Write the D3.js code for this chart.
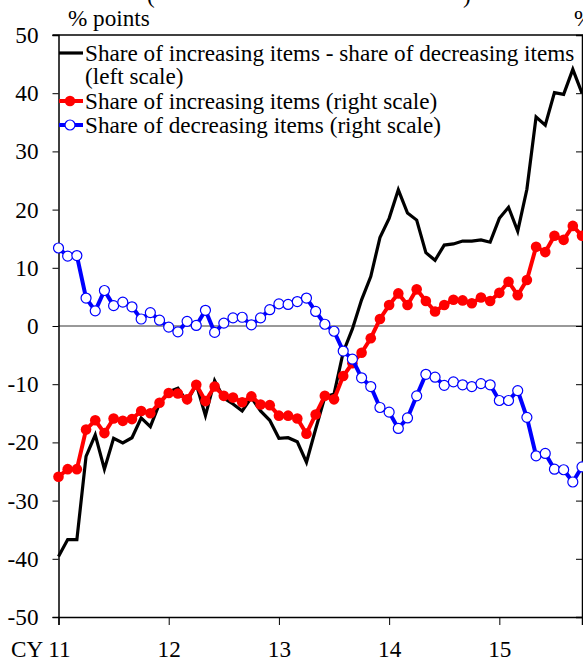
<!DOCTYPE html>
<html>
<head>
<meta charset="utf-8">
<script src="https://cdn.jsdelivr.net/npm/d3@7"></script>
<style>
  html, body { margin: 0; padding: 0; background: #fff; }
  svg { display: block; font-family: "Liberation Serif", "Times New Roman", serif; }
</style>
</head>
<body>
<svg id="chart" width="583" height="661"></svg>
<script>
// ---- Data (monthly, Jan 2011 - Oct 2015) ----
const months = [
  "2011-01","2011-02","2011-03","2011-04","2011-05","2011-06","2011-07","2011-08","2011-09","2011-10","2011-11","2011-12",
  "2012-01","2012-02","2012-03","2012-04","2012-05","2012-06","2012-07","2012-08","2012-09","2012-10","2012-11","2012-12",
  "2013-01","2013-02","2013-03","2013-04","2013-05","2013-06","2013-07","2013-08","2013-09","2013-10","2013-11","2013-12",
  "2014-01","2014-02","2014-03","2014-04","2014-05","2014-06","2014-07","2014-08","2014-09","2014-10","2014-11","2014-12",
  "2015-01","2015-02","2015-03","2015-04","2015-05","2015-06","2015-07","2015-08","2015-09","2015-10"
];
// Share of increasing items - share of decreasing items (left scale, % points)
const diffSeries = [
  -39.6,-36.7,-36.7,-22.4,-18.7,-24.6,-19.3,-20.1,-19.2,-15.8,-17.3,-13.3,
  -11.3,-10.7,-13.0,-10.0,-15.4,-9.4,-12.4,-13.4,-14.6,-12.3,-14.6,-16.2,
  -19.3,-19.2,-19.9,-23.4,-17.7,-12.2,-11.7,-4.5,-0.5,4.5,8.5,15.2,
  18.5,23.4,19.4,18.2,12.6,11.3,13.9,14.1,14.6,14.6,14.8,14.4,
  18.5,20.4,16.3,23.5,35.9,34.5,40.1,39.8,44.1,40.0
];
// Share of increasing items (right scale, plotted position)
const incSeries = [
  -25.9,-24.6,-24.6,-17.8,-16.2,-18.4,-15.9,-16.3,-16.0,-14.6,-15.0,-13.2,
  -11.5,-11.6,-12.6,-10.1,-12.9,-10.4,-12.0,-12.3,-13.1,-12.1,-13.5,-13.6,
  -15.4,-15.4,-15.9,-18.5,-15.2,-12.0,-12.6,-8.6,-6.4,-4.6,-2.1,1.2,
  3.6,5.6,3.6,6.3,4.3,2.5,3.6,4.5,4.4,3.9,4.9,4.3,
  5.7,7.6,5.3,7.9,13.6,12.7,15.5,14.8,17.2,15.5
];
// Share of decreasing items (right scale, plotted position)
const decSeries = [
  13.4,12.0,12.1,4.8,2.6,6.1,3.5,4.1,3.3,1.2,2.3,1.0,
  -0.2,-1.0,0.8,0.1,2.7,-1.1,0.5,1.4,1.5,0.2,1.4,2.8,
  3.8,3.7,4.2,4.8,2.5,0.3,-0.9,-4.3,-5.7,-8.9,-10.4,-14.0,
  -14.8,-17.6,-15.8,-12.0,-8.3,-8.8,-10.2,-9.6,-10.1,-10.4,-9.9,-10.1,
  -12.8,-12.8,-11.1,-15.7,-22.3,-21.9,-24.6,-24.7,-26.8,-24.2
];
const leftTicks = [-50,-40,-30,-20,-10,0,10,20,30,40,50];
const yearTickIndex = [0,12,24,36,48];
const yearLabels = ["CY 11","12","13","14","15"];
const legendLabels = [
  ["Share of increasing items - share of decreasing items", "(left scale)"],
  ["Share of increasing items (right scale)"],
  ["Share of decreasing items (right scale)"]
];

// ---- Layout ----
const svg = d3.select("#chart");
const X0 = 58.5, X1 = 582, Y0 = 35, Y1 = 617;
const FS = 23.2;
const x = d3.scaleLinear().domain([0, months.length - 1]).range([X0, X1]);
const y = d3.scaleLinear().domain([-50, 50]).range([Y1, Y0]);

// partial title (cut off at top, as in the reference)
svg.append("text").attr("x", 147).attr("y", 3).attr("font-size", FS).text("(");
svg.append("text").attr("x", 463).attr("y", 3).attr("font-size", FS).text(")");

// unit labels
svg.append("text").attr("x", 68).attr("y", 26).attr("font-size", FS).text("% points");
svg.append("text").attr("x", 574).attr("y", 26).attr("font-size", FS).text("%");

// zero line
svg.append("line")
  .attr("x1", X0).attr("x2", X1).attr("y1", y(0)).attr("y2", y(0))
  .attr("stroke", "#333").attr("stroke-width", 1);

// frame top line
svg.append("line").attr("x1", X0 - 6).attr("x2", X1 + 1).attr("y1", Y0).attr("y2", Y0)
  .attr("stroke", "#000").attr("stroke-width", 1.3);

// left axis
const gl = svg.append("g").attr("transform", `translate(${X0},0)`)
  .call(d3.axisLeft(y).tickValues(leftTicks).tickSize(6).tickPadding(14).tickFormat(d => String(d)));
gl.select(".domain").attr("stroke", "#000").attr("stroke-width", 1.5);
gl.selectAll(".tick line").attr("stroke", "#000").attr("stroke-width", 1);
gl.selectAll(".tick text").attr("font-size", FS).attr("font-family", "Liberation Serif").attr("fill", "#000");

// right axis (ticks inward, labels outside the picture)
const gr = svg.append("g").attr("transform", `translate(${X1},0)`)
  .call(d3.axisLeft(y).tickValues(leftTicks).tickSize(6).tickFormat(""));
gr.select(".domain").attr("stroke", "#000").attr("stroke-width", 1.5);
gr.selectAll(".tick line").attr("stroke", "#000").attr("stroke-width", 1);

// bottom axis
const gb = svg.append("g").attr("transform", `translate(0,${Y1})`)
  .call(d3.axisBottom(x).tickValues(yearTickIndex).tickSize(8)
    .tickFormat((d, i) => yearLabels[i]));
gb.select(".domain").attr("stroke", "#000").attr("stroke-width", 1.5);
gb.selectAll(".tick line").attr("stroke", "#000").attr("stroke-width", 1);
gb.selectAll(".tick text").attr("font-size", FS).attr("font-family", "Liberation Serif")
  .attr("fill", "#000").attr("dy", null).attr("y", 40);
gb.selectAll(".tick text").filter((d, i) => i === 0).attr("text-anchor", "end").attr("x", 11.5);

// series
const idx = d3.range(months.length);
const line = vals => d3.line().x(i => x(i)).y(i => y(vals[i]))(idx);

svg.append("path").attr("d", line(diffSeries)).attr("fill", "none")
  .attr("stroke", "#000").attr("stroke-width", 3.2).attr("stroke-linejoin", "miter");

svg.append("path").attr("d", line(incSeries)).attr("fill", "none")
  .attr("stroke", "#ff0000").attr("stroke-width", 4).attr("stroke-linejoin", "round");
svg.append("g").selectAll("circle").data(idx).join("circle")
  .attr("cx", i => x(i)).attr("cy", i => y(incSeries[i])).attr("r", 5.3)
  .attr("fill", "#ff0000");

svg.append("path").attr("d", line(decSeries)).attr("fill", "none")
  .attr("stroke", "#0000ff").attr("stroke-width", 4).attr("stroke-linejoin", "round");
svg.append("g").selectAll("circle").data(idx).join("circle")
  .attr("cx", i => x(i)).attr("cy", i => y(decSeries[i])).attr("r", 5)
  .attr("fill", "#fff").attr("stroke", "#0000ff").attr("stroke-width", 1.2);

// legend
const lg = svg.append("g");
const legY = [61, 109, 133];
const legColors = ["#000", "#ff0000", "#0000ff"];
legendLabels.forEach((lines, k) => {
  const sy = legY[k] - 8;
  lg.append("line").attr("x1", 59).attr("x2", 83).attr("y1", sy).attr("y2", sy)
    .attr("stroke", legColors[k]).attr("stroke-width", k === 0 ? 3.2 : 4);
  if (k === 1) lg.append("circle").attr("cx", 70).attr("cy", sy).attr("r", 5.3).attr("fill", "#ff0000");
  if (k === 2) lg.append("circle").attr("cx", 70).attr("cy", sy).attr("r", 5)
    .attr("fill", "#fff").attr("stroke", "#0000ff").attr("stroke-width", 1.2);
  lines.forEach((t, j) => {
    lg.append("text").attr("x", 85).attr("y", legY[k] + j * 23).attr("font-size", FS).text(t);
  });
});
</script>
</body>
</html>
